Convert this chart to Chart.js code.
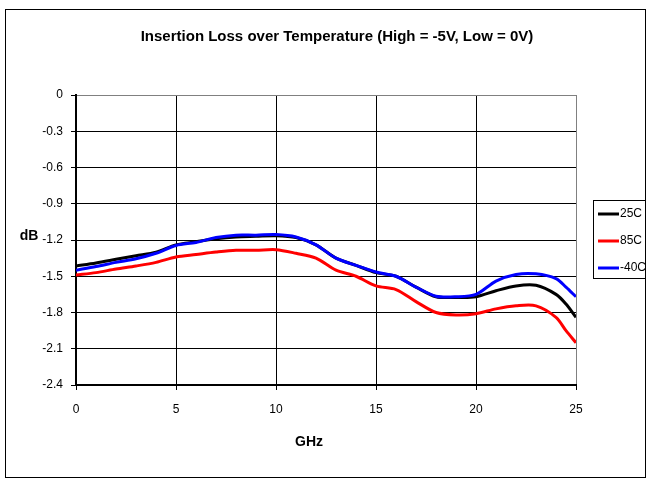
<!DOCTYPE html>
<html>
<head>
<meta charset="utf-8">
<script src="https://cdn.jsdelivr.net/npm/chart.js@4.4.1/dist/chart.umd.min.js"></script>
<style>
  body { margin: 0; background: #fff; }
  canvas { display: block; }
</style>
</head>
<body>
<canvas id="loss-chart" width="647" height="479"></canvas>
<script>
// values (dB vs GHz)
var freqGHz = [0, 1, 2, 3, 4, 5, 6, 7, 8, 9, 10, 11, 12, 13, 14, 15, 16, 17, 18, 19, 20, 21, 22, 23, 24, 24.5, 25];
var loss25C = [-1.415, -1.39, -1.36, -1.33, -1.30, -1.24, -1.215, -1.19, -1.175, -1.17, -1.165, -1.18, -1.24, -1.35, -1.41, -1.47, -1.50, -1.59, -1.67, -1.675, -1.67, -1.62, -1.58, -1.575, -1.65, -1.73, -1.84];
var loss85C = [-1.49, -1.47, -1.44, -1.415, -1.385, -1.34, -1.32, -1.30, -1.285, -1.285, -1.28, -1.31, -1.35, -1.45, -1.50, -1.58, -1.61, -1.71, -1.80, -1.82, -1.81, -1.77, -1.745, -1.745, -1.84, -1.95, -2.05];
var lossMinus40C = [-1.45, -1.42, -1.385, -1.355, -1.31, -1.245, -1.22, -1.18, -1.16, -1.16, -1.155, -1.175, -1.24, -1.35, -1.41, -1.465, -1.50, -1.59, -1.665, -1.67, -1.65, -1.54, -1.485, -1.48, -1.52, -1.59, -1.67];

var seriesNames = ['25C', '85C', '-40C'];
var seriesColors = ['#000000', '#ff0000', '#0000ff'];

var xTicks = [0, 5, 10, 15, 20, 25];
var yTicks = [0, -0.3, -0.6, -0.9, -1.2, -1.5, -1.8, -2.1, -2.4];

var chartTitle = 'Insertion Loss over Temperature (High = -5V, Low = 0V)';
var FONT = '"Liberation Sans", Arial, sans-serif';

function points(ys) {
    return freqGHz.map(function (f, i) { return { x: f, y: ys[i] }; });
}

function makeSet(i, ys, order) {
    return {
        label: seriesNames[i],
        data: points(ys),
        borderColor: seriesColors[i],
        backgroundColor: seriesColors[i],
        borderWidth: 3,
        pointRadius: 0,
        tension: 0.3,
        order: order
    };
}

// frame, title, axis names and legend box like the spreadsheet chart
var decorations = {
    id: 'decorations',
    beforeDraw: function (chart) {
        var c = chart.ctx;
        c.save();
        c.fillStyle = '#fff';
        c.fillRect(0, 0, chart.width, chart.height);
        c.restore();
    },
    afterDraw: function (chart) {
        var c = chart.ctx;
        c.save();
        c.strokeStyle = '#000';
        c.lineWidth = 1;
        c.strokeRect(5.5, 9.5, 640, 468);

        c.fillStyle = '#000';
        c.textAlign = 'center';
        c.textBaseline = 'middle';
        c.font = 'bold 15px ' + FONT;
        c.fillText(chartTitle, 337, 37);
        c.font = 'bold 14px ' + FONT;
        c.fillText('GHz', 309, 442);
        c.fillText('dB', 29, 236);

        // legend
        c.strokeRect(593.5, 200.5, 52, 78);
        c.font = '12px ' + FONT;
        c.textAlign = 'left';
        for (var i = 0; i < seriesNames.length; i++) {
            var y = 214 + i * 27;
            c.strokeStyle = seriesColors[i];
            c.lineWidth = 3;
            c.beginPath();
            c.moveTo(598, y);
            c.lineTo(619, y);
            c.stroke();
            c.fillText(seriesNames[i], 620, y);
        }
        c.restore();
    }
};

var ctx = document.getElementById('loss-chart').getContext('2d');
var chart = new Chart(ctx, {
    type: 'line',
    data: {
        datasets: [
            makeSet(0, loss25C, 2),
            makeSet(1, loss85C, 1),
            makeSet(2, lossMinus40C, 0)
        ]
    },
    options: {
        responsive: false,
        animation: false,
        layout: {
            padding: { top: 95, right: 71, left: 0, bottom: 0 }
        },
        plugins: {
            legend: { display: false },
            title: { display: false },
            tooltip: { enabled: false }
        },
        scales: {
            x: {
                type: 'linear',
                min: 0,
                max: 25,
                afterFit: function (scale) { scale.height = 94; },
                afterBuildTicks: function (scale) {
                    scale.ticks = xTicks.map(function (v) { return { value: v }; });
                },
                ticks: {
                    color: '#000',
                    padding: 12,
                    maxRotation: 0,
                    font: { family: FONT, size: 12 }
                },
                grid: {
                    color: function (c) { return c.tick && c.tick.value === 25 ? '#808080' : '#000'; },
                    tickColor: '#000',
                    tickLength: 5,
                    lineWidth: 1
                },
                border: { color: '#000', width: 2 }
            },
            y: {
                min: -2.4,
                max: 0,
                afterFit: function (scale) { scale.width = 76; },
                afterBuildTicks: function (scale) {
                    scale.ticks = yTicks.map(function (v) { return { value: v }; });
                },
                ticks: {
                    color: '#000',
                    padding: 8,
                    font: { family: FONT, size: 12 },
                    callback: function (v) { return v === 0 ? '0' : v.toFixed(1); }
                },
                grid: {
                    color: function (c) { return c.tick && c.tick.value === 0 ? '#808080' : '#000'; },
                    tickColor: '#000',
                    tickLength: 5,
                    lineWidth: 1
                },
                border: { color: '#000', width: 2 }
            }
        }
    },
    plugins: [decorations]
});
</script>
</body>
</html>
